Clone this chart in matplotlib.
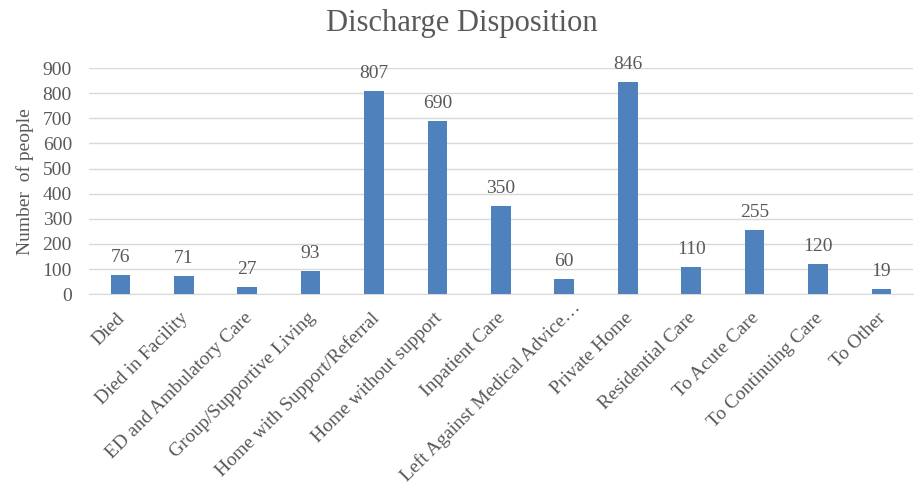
import matplotlib
matplotlib.use("Agg")
import matplotlib.pyplot as plt
import matplotlib.transforms as mtransforms
import numpy as np

categories = [
    "Died", "Died in Facility", "ED and Ambulatory Care",
    "Group/Supportive Living", "Home with Support/Referral",
    "Home without support", "Inpatient Care",
    "Left Against Medical Advice\u2026", "Private Home",
    "Residential Care", "To Acute Care", "To Continuing Care", "To Other",
]
counts = [76, 71, 27, 93, 807, 690, 350, 60, 846, 110, 255, 120, 19]
yticks = [0, 100, 200, 300, 400, 500, 600, 700, 800, 900]

plt.rcParams["font.family"] = ["Liberation Serif", "DejaVu Serif"]
text_color = "#595959"
bar_color = "#4f81bd"

fig = plt.figure(figsize=(9.14, 4.97), dpi=100)
ax = fig.add_axes([0.097, 0.408, 0.902, 0.455])

x = np.arange(len(categories))
ax.bar(x, counts, width=0.31, color=bar_color, zorder=3)
for xi, v in zip(x, counts):
    ax.text(xi, v + 36, str(v), ha="center", va="bottom",
            fontsize=14, color=text_color)

ax.set_xlim(-0.5, len(categories) - 0.5)
ax.set_ylim(0, 900)
ax.set_yticks(yticks)
ax.set_yticklabels([str(t) for t in yticks], fontsize=14, color=text_color)
ax.set_xticks(x)
ax.set_xticklabels(categories, rotation=45, ha="right", rotation_mode="anchor",
                   fontsize=14, color=text_color)
ax.tick_params(axis="y", length=0, pad=12)
ax.tick_params(axis="x", length=0, pad=6)
for lbl in ax.get_xticklabels():
    dx, dy = -4, -7
    if lbl.get_text().endswith("\u2026"):
        # truncated label sits a little further along its baseline
        dx, dy = 7, 4
    shift = mtransforms.ScaledTranslation(dx / 100, dy / 100, fig.dpi_scale_trans)
    lbl.set_transform(lbl.get_transform() + shift)
ax.grid(axis="y", color="#d9d9d9", linewidth=1, zorder=0)
for s in ["top", "right", "left"]:
    ax.spines[s].set_visible(False)
ax.spines["bottom"].set_color("#d9d9d9")
ax.set_ylabel("Number  of people", fontsize=14, color=text_color, labelpad=6)
fig.text(0.505, 0.952, "Discharge Disposition", ha="center", va="center",
         fontsize=22, color=text_color)

fig.savefig("out.png", dpi=100)
